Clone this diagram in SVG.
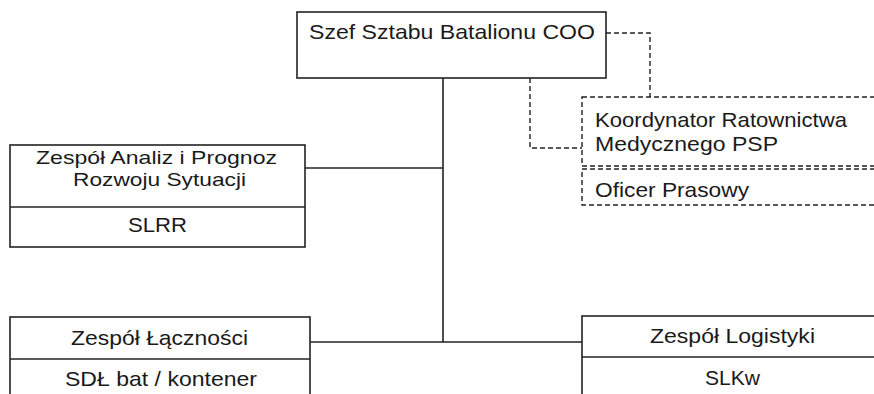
<svg xmlns="http://www.w3.org/2000/svg" width="874" height="394" viewBox="0 0 874 394">
<style>
.box{fill:#fff;stroke:#222;stroke-width:1.6}
.dbox{fill:#fff;stroke:#222;stroke-width:1.4;stroke-dasharray:5 3}
.ln{fill:none;stroke:#222;stroke-width:1.6}
.dln{fill:none;stroke:#222;stroke-width:1.4;stroke-dasharray:5 3}
text{font-family:"Liberation Sans",Arial,sans-serif;font-size:21px;fill:#1a1a1a}
.c{text-anchor:middle}
.s{font-size:19px}
</style>
<rect width="874" height="394" fill="#fff"/>
<g id="connectors">
<path class="ln" d="M443,78 V342"/>
<path class="ln" d="M305,168 H443"/>
<path class="ln" d="M310,342 H582"/>
<path class="dln" d="M606,33 H650 V97"/>
<path class="dln" d="M530,78 V148 H582"/>
</g>
<g id="szef">
<rect class="box" x="297" y="12" width="309" height="66"/>
<text class="c" x="452" y="39" textLength="286" lengthAdjust="spacingAndGlyphs">Szef Sztabu Batalionu COO</text>
</g>
<g id="koordynator">
<rect class="dbox" x="582" y="97" width="320" height="69"/>
<text x="595" y="127" textLength="252" lengthAdjust="spacingAndGlyphs">Koordynator Ratownictwa</text>
<text x="595" y="151" textLength="183" lengthAdjust="spacingAndGlyphs">Medycznego PSP</text>
</g>
<g id="oficer">
<rect class="dbox" x="582" y="169" width="320" height="36"/>
<text x="595" y="197" textLength="154" lengthAdjust="spacingAndGlyphs">Oficer Prasowy</text>
</g>
<g id="analiz">
<rect class="box" x="10" y="145" width="295" height="102"/>
<path class="ln" d="M10,207 H305"/>
<text class="c s" x="156.5" y="164" textLength="241" lengthAdjust="spacingAndGlyphs">Zespół Analiz i Prognoz</text>
<text class="c s" x="159.5" y="186" textLength="173" lengthAdjust="spacingAndGlyphs">Rozwoju Sytuacji</text>
<text class="c" x="157.5" y="232" textLength="59" lengthAdjust="spacingAndGlyphs">SLRR</text>
</g>
<g id="lacznosc">
<rect class="box" x="10" y="317" width="300" height="100"/>
<path class="ln" d="M10,359 H310"/>
<text class="c" x="159.5" y="345" textLength="177" lengthAdjust="spacingAndGlyphs">Zespół Łączności</text>
<text class="c" x="161" y="386" textLength="192" lengthAdjust="spacingAndGlyphs">SDŁ bat / kontener</text>
</g>
<g id="logistyka">
<rect class="box" x="582" y="316" width="300" height="100"/>
<path class="ln" d="M582,357 H882"/>
<text class="c" x="732.5" y="343" textLength="165" lengthAdjust="spacingAndGlyphs">Zespół Logistyki</text>
<text class="c" x="732.5" y="385" textLength="55" lengthAdjust="spacingAndGlyphs">SLKw</text>
</g>
</svg>
